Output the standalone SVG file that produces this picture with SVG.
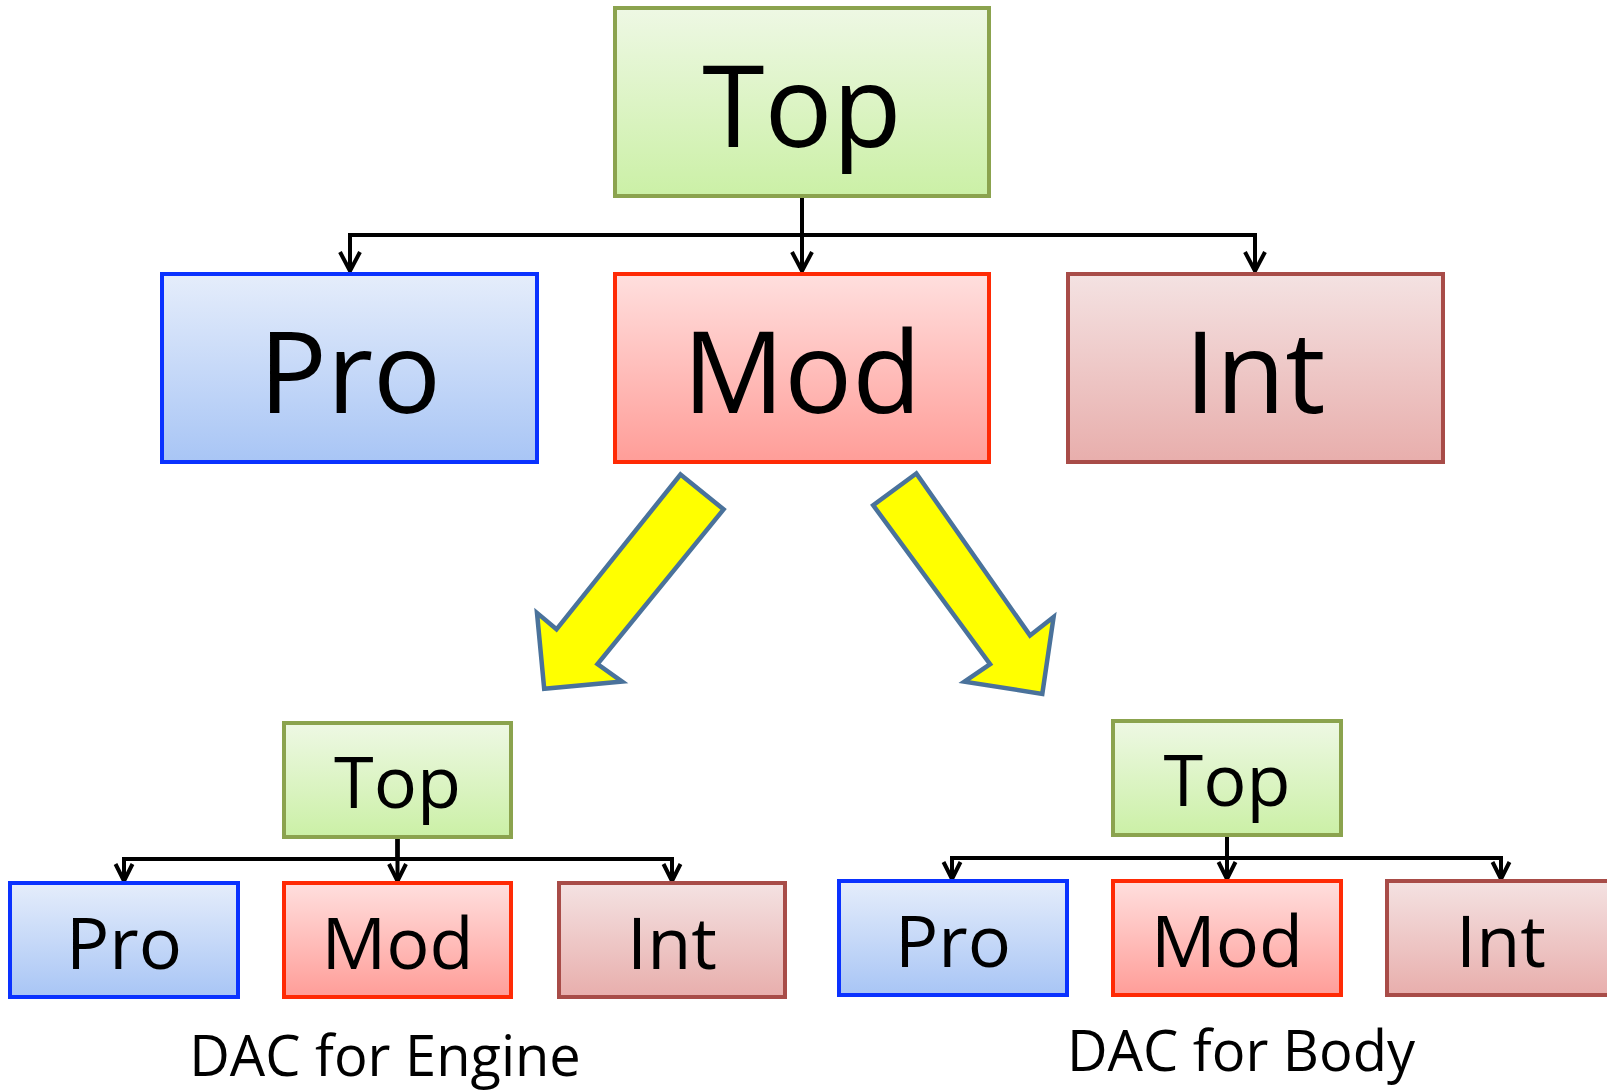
<svg xmlns="http://www.w3.org/2000/svg" width="1607" height="1090" viewBox="0 0 1607 1090">
<defs>
<linearGradient id="gGreen" x1="0" y1="0" x2="0" y2="1"><stop offset="0" stop-color="#eef8e4"/><stop offset="1" stop-color="#cbf0a6"/></linearGradient>
<linearGradient id="gBlue" x1="0" y1="0" x2="0" y2="1"><stop offset="0" stop-color="#e5edfb"/><stop offset="1" stop-color="#a8c5f5"/></linearGradient>
<linearGradient id="gRed" x1="0" y1="0" x2="0" y2="1"><stop offset="0" stop-color="#ffdfde"/><stop offset="1" stop-color="#ff9d98"/></linearGradient>
<linearGradient id="gInt" x1="0" y1="0" x2="0" y2="1"><stop offset="0" stop-color="#f4e2e2"/><stop offset="1" stop-color="#e8aeac"/></linearGradient>
<marker id="vBig" markerUnits="userSpaceOnUse" viewBox="-23 -14 28 28" refX="0" refY="0" markerWidth="28" markerHeight="28" orient="auto">
<path d="M-19,-10 L0,0 L-19,10" fill="none" stroke="#000" stroke-width="4"/>
</marker>
<marker id="vSmall" markerUnits="userSpaceOnUse" viewBox="-21 -12 26 24" refX="0" refY="0" markerWidth="26" markerHeight="24" orient="auto">
<path d="M-17,-8.5 L0,0 L-17,8.5" fill="none" stroke="#000" stroke-width="4"/>
</marker>
</defs>
<style>
.green{fill:url(#gGreen);stroke:#8ba34e}
.blue{fill:url(#gBlue);stroke:#0a32ff}
.red{fill:url(#gRed);stroke:#ff2a05}
.int{fill:url(#gInt);stroke:#a84c48}
.big{stroke-width:4}
.small{stroke-width:4}
.t{font-family:"Open Sans","Noto Sans",sans-serif;fill:#000;text-anchor:middle}
.tb{font-size:113px}
.ts{font-size:72px}
.cap{font-size:56px}
.conn{fill:none;stroke:#000;stroke-width:4;stroke-linejoin:miter}
.yarrow{fill:#ffff00;stroke:#4a729b;stroke-width:4.5;stroke-linejoin:miter}
</style>
<g id="connectors">
<path class="conn" marker-end="url(#vBig)" d="M802,196 V235 H350 V271"/>
<path class="conn" marker-end="url(#vBig)" d="M802,196 V271"/>
<path class="conn" marker-end="url(#vBig)" d="M802,196 V235 H1255 V271"/>
<path class="conn" marker-end="url(#vSmall)" d="M397.5,837 V859 H124 V881"/>
<path class="conn" marker-end="url(#vSmall)" d="M397.5,837 V881"/>
<path class="conn" marker-end="url(#vSmall)" d="M397.5,837 V859 H672 V881"/>
<path class="conn" marker-end="url(#vSmall)" d="M1227,835 V858 H952 V879"/>
<path class="conn" marker-end="url(#vSmall)" d="M1227,835 V879"/>
<path class="conn" marker-end="url(#vSmall)" d="M1227,835 V858 H1501 V879"/>
</g>
<g id="top-main"><rect class="green big" x="615" y="8" width="374" height="188"/><text class="t tb" x="802" y="147">Top</text></g>
<g id="pro-main"><rect class="blue big" x="162" y="274" width="375" height="188"/><text class="t tb" x="350" y="413">Pro</text></g>
<g id="mod-main"><rect class="red big" x="615" y="274" width="374" height="188"/><text class="t tb" x="802" y="413">Mod</text></g>
<g id="int-main"><rect class="int big" x="1068" y="274" width="375" height="188"/><text class="t tb" x="1255" y="413">Int</text></g>
<g id="arrow-left"><polygon class="yarrow" points="680.5,474.5 723.6,509.4 597.5,664.1 622.1,681.6 544.2,688.7 537.0,612.9 556.5,629.3"/></g>
<g id="arrow-right"><polygon class="yarrow" points="916.3,473.5 873.2,505.3 990.1,664.1 964.4,681.6 1042.3,693.9 1053.6,617.0 1030.0,635.4"/></g>
<g id="top-engine"><rect class="green small" x="284" y="723" width="227" height="114"/><text class="t ts" x="397.5" y="808">Top</text></g>
<g id="pro-engine"><rect class="blue small" x="10" y="883" width="228" height="114"/><text class="t ts" x="124" y="969">Pro</text></g>
<g id="mod-engine"><rect class="red small" x="284" y="883" width="227" height="114"/><text class="t ts" x="397.5" y="969">Mod</text></g>
<g id="int-engine"><rect class="int small" x="559" y="883" width="226" height="114"/><text class="t ts" x="672" y="969">Int</text></g>
<g id="label-engine"><text class="t cap" x="385" y="1076">DAC for Engine</text></g>
<g id="top-body"><rect class="green small" x="1113" y="721" width="228" height="114"/><text class="t ts" x="1227" y="806">Top</text></g>
<g id="pro-body"><rect class="blue small" x="839" y="881" width="228" height="114"/><text class="t ts" x="953" y="967">Pro</text></g>
<g id="mod-body"><rect class="red small" x="1113" y="881" width="228" height="114"/><text class="t ts" x="1227" y="967">Mod</text></g>
<g id="int-body"><rect class="int small" x="1387" y="881" width="228" height="114"/><text class="t ts" x="1501" y="967">Int</text></g>
<g id="label-body"><text class="t cap" x="1241" y="1071">DAC for Body</text></g>
</svg>
